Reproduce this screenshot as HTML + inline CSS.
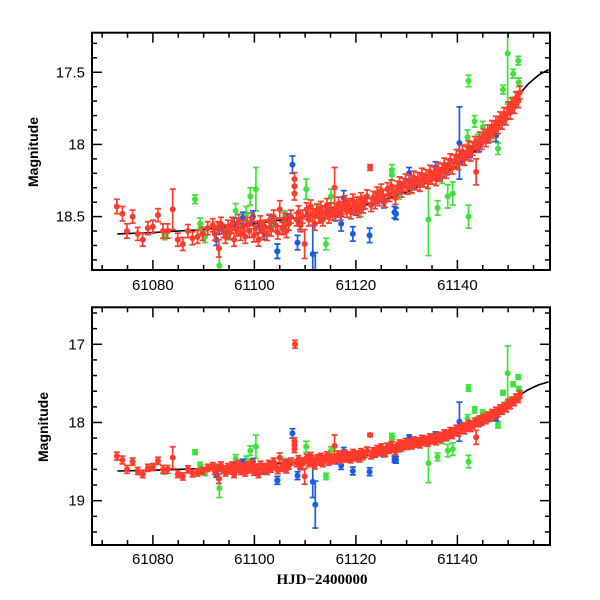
<!DOCTYPE html>
<html><head><meta charset="utf-8"><style>
html,body{margin:0;padding:0;background:#fff}
svg{display:block;font-family:"Liberation Sans",Arial,sans-serif}
</style></head><body>
<svg id="chart" width="600" height="600" viewBox="0 0 600 600" xmlns="http://www.w3.org/2000/svg">
<defs>
<clipPath id="clipTop"><rect x="92" y="32.7" width="458" height="237.3"/></clipPath>
<clipPath id="clipBot"><rect x="92" y="307.3" width="458" height="237.7"/></clipPath>
</defs>
</svg>
<script>
// ---- data ----
const modelDays = [61073,61080,61090,61100,61110,61120,61125,61130,61135,61140,61145,61148,61150,61152,61154,61156,61158];
const modelMags = [18.62,18.61,18.59,18.55,18.50,18.44,18.39,18.33,18.25,18.15,18.00,17.88,17.79,17.66,17.58,17.52,17.48];

const greenDays = [61082.3,61088.3,61089.3,61089.4,61090.3,61093.1,61096.3,61098.4,61099.2,61100.3,61104.6,61110.2,61114.1,61115.1,61127.1,61127.1,61134.3,61136.1,61138.1,61139.1,61142.0,61142.2,61142.2,61143.4,61145.0,61148.0,61149.0,61149.9,61151.0,61152.0,61152.1,
61095.0,61097.0,61103.5,61106.0,61112.5,61118.0,61121.0,61124.5,61128.5,61131.0,61137.0,61140.0,61144.0,61146.5,61150.5,61151.5];
const greenMags = [18.63,18.38,18.55,18.58,18.64,18.84,18.46,18.48,18.36,18.31,18.74,18.31,18.69,18.36,18.21,18.18,18.52,18.44,18.36,18.34,17.95,17.56,18.50,17.84,17.88,18.03,17.62,17.37,17.51,17.42,17.57,
18.62,18.57,18.55,18.50,18.46,18.42,18.45,18.35,18.33,18.30,18.22,18.13,17.97,17.93,17.72,17.68];
const greenErrs = [0.03,0.03,0.04,0.04,0.04,0.12,0.05,0.05,0.06,0.15,0.05,0.07,0.04,0.05,0.04,0.04,0.25,0.05,0.08,0.08,0.05,0.04,0.08,0.04,0.04,0.04,0.03,0.35,0.03,0.03,0.03,
0.04,0.04,0.05,0.04,0.05,0.04,0.05,0.04,0.05,0.04,0.05,0.04,0.04,0.04,0.04,0.04];

const blueDays = [61092.5,61093.1,61097.7,61099.7,61103.0,61104.5,61107.5,61108.5,61111.5,61112.0,61117.1,61117.6,61119.4,61122.7,61127.6,61127.9,61130.5,61135.7,61140.4,61144.3,61147.6,
61094.5,61096.0,61101.0,61102.0,61105.5,61106.5,61109.0,61110.5,61113.0,61114.5,61116.0,61118.5,61120.0,61121.5,61124.0,61125.5,61129.0,61131.5,61133.0,61136.5,61138.0,61141.0,61142.5,61146.0,61149.0];
const blueMags = [18.66,18.58,18.51,18.50,18.53,18.74,18.14,18.68,18.76,19.05,18.55,18.37,18.62,18.63,18.47,18.48,18.20,18.16,17.99,18.01,17.94,
18.60,18.55,18.57,18.62,18.58,18.52,18.55,18.48,18.50,18.45,18.49,18.43,18.45,18.41,18.37,18.40,18.30,18.27,18.24,18.20,18.17,18.10,18.05,17.95,17.82];
const blueErrs = [0.04,0.04,0.04,0.04,0.04,0.05,0.06,0.05,0.20,0.30,0.05,0.05,0.05,0.05,0.04,0.04,0.04,0.04,0.25,0.04,0.04,
0.04,0.04,0.04,0.04,0.04,0.04,0.04,0.04,0.04,0.04,0.04,0.04,0.04,0.04,0.04,0.04,0.04,0.04,0.04,0.04,0.04,0.04,0.04,0.04,0.04];

const redDays = [61072.9,61074.0,61074.9,61076.0,61077.0,61078.0,61079.0,61080.0,61081.0,61082.0,61082.9,61083.9,61084.9,61085.9,61086.9,61087.8,61088.8,61089.8,61090.8,61091.8,
61092.2,61092.7,61093.0,61093.4,61093.9,61094.3,61094.8,61095.2,61095.6,61096.0,61096.5,61096.9,61097.3,61097.8,61098.2,61098.6,61099.0,61099.5,61099.9,61100.3,61100.8,61101.2,61101.6,61102.0,61102.5,61102.9,61103.3,61103.8,61104.2,61104.6,61105.0,61105.5,61105.9,61106.3,61106.8,61107.2,61107.9,61107.9,61107.9,61108.0,61108.3,61108.7,61109.1,61109.5,61109.9,61110.3,61110.7,61111.1,61111.5,61111.9,61112.3,61112.7,61113.1,61113.5,61113.9,61114.3,61114.7,61115.1,61115.5,61115.8,61116.2,61116.6,61117.0,61117.4,61117.8,61118.2,61118.6,61119.0,61119.4,61119.8,61120.2,61120.6,61121.0,61121.4,61121.8,61122.2,61122.8,61123.0,61123.4,61123.8,61124.2,61124.6,61125.0,61125.4,61125.8,61126.2,61126.6,61127.0,61127.4,61127.8,61128.2,61128.6,61129.0,61129.4,61129.8,61130.2,61130.6,61131.0,61131.4,61131.8,61132.2,61132.6,61133.0,61133.4,61133.8,61134.2,61134.6,61135.0,61135.4,61135.8,61136.2,61136.6,61137.0,61137.4,61137.8,61138.2,61138.6,61139.0,61139.4,61139.8,61140.2,61140.6,61141.0,61141.4,61141.8,61142.2,61142.6,61143.0,61143.4,61143.7,61144.0,61144.4,61144.8,61145.2,61145.6,61146.0,61146.4,61146.8,61147.2,61147.6,61148.0,61148.4,61148.8,61149.2,61149.6,61150.0,61150.4,61150.8,61151.2,61151.6,61152.0,61152.3];
const redMags = [18.43,18.48,18.60,18.50,18.62,18.66,18.58,18.57,18.49,18.60,18.60,18.45,18.66,18.69,18.60,18.65,18.64,18.62,18.58,18.56,
18.62,18.58,18.72,18.55,18.60,18.64,18.57,18.61,18.55,18.66,18.59,18.53,18.62,18.57,18.64,18.55,18.60,18.52,18.63,18.58,18.66,18.54,18.60,18.57,18.62,18.53,18.59,18.50,18.56,18.61,18.45,18.58,18.52,18.60,18.55,18.50,18.24,18.29,18.34,17.00,18.52,18.47,18.56,18.50,18.69,18.45,18.52,18.43,18.49,18.55,18.46,18.50,18.44,18.52,18.47,18.42,18.50,18.45,18.48,18.30,18.46,18.41,18.48,18.44,18.40,18.46,18.42,18.47,18.39,18.44,18.41,18.46,18.38,18.43,18.40,18.36,18.16,18.42,18.37,18.40,18.34,18.38,18.32,18.36,18.39,18.31,18.35,18.29,18.33,18.37,18.30,18.27,18.32,18.28,18.25,18.30,18.26,18.29,18.23,18.27,18.24,18.28,18.21,18.25,18.22,18.26,18.19,18.23,18.20,18.24,18.17,18.21,18.18,18.14,18.19,18.15,18.11,18.16,18.12,18.08,18.13,18.09,18.05,18.10,18.06,18.02,18.07,18.03,17.99,18.19,18.01,17.96,17.99,17.94,17.97,17.91,17.94,17.88,17.91,17.85,17.88,17.82,17.85,17.79,17.82,17.75,17.78,17.72,17.74,17.68,17.70,17.64];
const redErrs = [0.05,0.05,0.05,0.045,0.045,0.045,0.045,0.045,0.045,0.05,0.05,0.14,0.045,0.045,0.045,0.045,0.045,0.045,0.045,0.045,
0.045,0.045,0.06,0.045,0.045,0.045,0.045,0.045,0.045,0.045,0.045,0.045,0.045,0.045,0.045,0.045,0.045,0.045,0.045,0.045,0.045,0.045,0.045,0.045,0.045,0.045,0.045,0.045,0.045,0.045,0.06,0.045,0.045,0.045,0.045,0.045,0.045,0.045,0.045,0.05,0.045,0.045,0.045,0.045,0.10,0.045,0.045,0.045,0.045,0.045,0.045,0.045,0.045,0.045,0.045,0.045,0.045,0.045,0.045,0.14,0.045,0.045,0.045,0.045,0.045,0.045,0.045,0.045,0.045,0.045,0.045,0.045,0.045,0.045,0.045,0.045,0.02,0.045,0.045,0.045,0.045,0.045,0.045,0.045,0.045,0.045,0.045,0.045,0.045,0.045,0.045,0.045,0.045,0.045,0.045,0.045,0.045,0.045,0.045,0.045,0.045,0.045,0.045,0.045,0.045,0.045,0.045,0.045,0.045,0.045,0.045,0.045,0.045,0.045,0.045,0.045,0.045,0.045,0.045,0.045,0.045,0.045,0.045,0.045,0.045,0.045,0.045,0.045,0.045,0.09,0.045,0.045,0.045,0.045,0.045,0.045,0.045,0.045,0.045,0.045,0.045,0.045,0.045,0.045,0.045,0.045,0.045,0.045,0.045,0.045,0.045,0.045];

const xTickValues = [61080,61100,61120,61140];
const topTickValues = [17.5,18,18.5];
const topTickLabels = ["17.5","18","18.5"];
const botTickValues = [17,18,19];
const botTickLabels = ["17","18","19"];

// ---- layout ----
const NS = "http://www.w3.org/2000/svg";
const svg = document.getElementById("chart");
const XL = 92, XR = 550, D0 = 61068.0, D1 = 61158.25;
function xScale(d){ return XL + (d - D0) / (D1 - D0) * (XR - XL); }

function mk(tag, attrs, parent){
  const e = document.createElementNS(NS, tag);
  for (const k in attrs) e.setAttribute(k, attrs[k]);
  (parent || svg).appendChild(e);
  return e;
}

const panels = [
  {name:"top", y0:32.7, y1:270, m0:17.226, m1:18.87, ticks:topTickValues, labels:topTickLabels, minor:0.1, clip:"clipTop", ylabX:38, ylabY:152, xlabY:290},
  {name:"bottom", y0:307.3, y1:545, m0:16.527, m1:19.567, ticks:botTickValues, labels:botTickLabels, minor:0.2, clip:"clipBot", ylabX:48, ylabY:427, xlabY:564}
];

panels.forEach(p => {
  const yScale = m => p.y0 + (m - p.m0) / (p.m1 - p.m0) * (p.y1 - p.y0);
  const g = mk("g", {});
  
  

  const dg = mk("g", {"clip-path":"url(#"+p.clip+")"}, g);
  
  

  let dpath = "";
  modelDays.forEach((d,i) => { dpath += (i ? "L" : "M") + xScale(d).toFixed(1) + "," + yScale(modelMags[i]).toFixed(1); });
  const curve = mk("path", {d:dpath, fill:"none", stroke:"#000", "stroke-width":1.6, "stroke-linejoin":"round"}, dg);
  
  

  const series = [
    {key:"green", days:greenDays, mags:greenMags, errs:greenErrs, col:"#3fe23a"},
    {key:"blue", days:blueDays, mags:blueMags, errs:blueErrs, col:"#1a5ce6"},
    {key:"red", days:redDays, mags:redMags, errs:redErrs, col:"#ff3b2b"}
  ];
  series.forEach(s => {
    const sg = mk("g", {stroke:s.col, fill:s.col, "stroke-width":1.7}, dg);
    
    
    s.days.forEach((d,i) => {
      const x = xScale(d), y = yScale(s.mags[i]);
      const ya = yScale(s.mags[i] - s.errs[i]), yb = yScale(s.mags[i] + s.errs[i]);
      const pg = mk("g", {}, sg);
      
      
      mk("line", {x1:x, x2:x, y1:ya, y2:yb}, pg);
      mk("line", {x1:x-3, x2:x+3, y1:ya, y2:ya}, pg);
      mk("line", {x1:x-3, x2:x+3, y1:yb, y2:yb}, pg);
      mk("circle", {cx:x, cy:y, r:3, stroke:"none"}, pg);
    });
  });

  const fr = mk("rect", {x:XL, y:p.y0, width:XR-XL, height:p.y1-p.y0, fill:"none", stroke:"#000", "stroke-width":2}, g);
  
  

  const xt = mk("g", {stroke:"#000", "stroke-width":1.5}, g);
  
  
  for (let d = 61070; d <= 61158; d += 5) {
    const x = xScale(d), len = (d % 20 === 0) ? 10 : 5;
    mk("line", {x1:x, x2:x, y1:p.y1, y2:p.y1-len}, xt);
    mk("line", {x1:x, x2:x, y1:p.y0, y2:p.y0+len}, xt);
  }
  xTickValues.forEach(d => {
    const t = mk("text", {x:xScale(d), y:p.xlabY, "text-anchor":"middle", "font-size":15, fill:"#000"}, g);
    t.textContent = String(d);
    
    
  });

  const yt = mk("g", {stroke:"#000", "stroke-width":1.5}, g);
  
  
  const start = Math.ceil(p.m0 / p.minor - 1e-6);
  for (let k = start; k * p.minor <= p.m1 + 1e-9; k++) {
    const m = k * p.minor, y = yScale(m);
    const isMaj = p.ticks.some(t => Math.abs(t - m) < 1e-6);
    const len = isMaj ? 10 : 5;
    mk("line", {x1:XL, x2:XL+len, y1:y, y2:y}, yt);
    mk("line", {x1:XR, x2:XR-len, y1:y, y2:y}, yt);
  }
  p.ticks.forEach((m,i) => {
    const t = mk("text", {x:85, y:yScale(m)+5, "text-anchor":"end", "font-size":15, fill:"#000"}, g);
    t.textContent = p.labels[i];
    
    
  });

  const yl = mk("text", {x:p.ylabX, y:p.ylabY, "text-anchor":"middle", "font-size":14, "font-weight":"bold", fill:"#000", transform:"rotate(-90 "+p.ylabX+" "+p.ylabY+")"}, g);
  yl.textContent = "Magnitude";
  
  
});

const xl = mk("text", {x:322, y:584, "text-anchor":"middle", "font-size":15, fill:"#000", "font-family":"Liberation Serif, serif", "font-weight":"bold"});
xl.textContent = "HJD\u22122400000";


</script>
</body></html>
